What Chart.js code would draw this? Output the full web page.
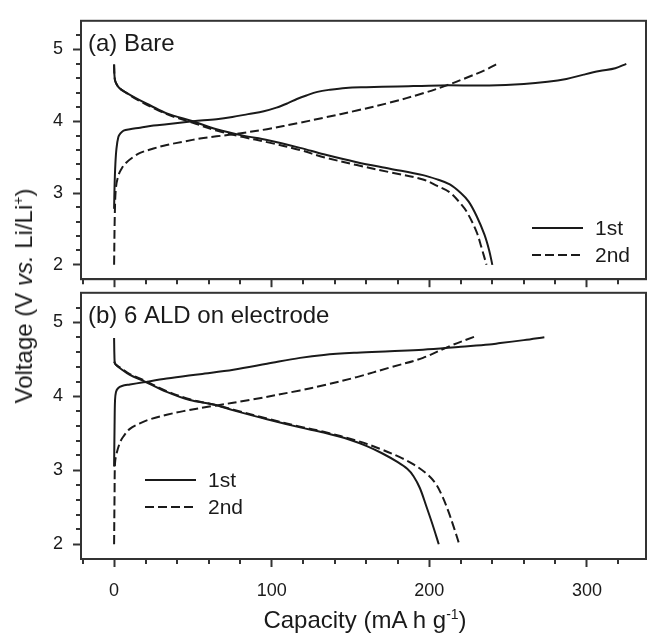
<!DOCTYPE html>
<html>
<head>
<meta charset="utf-8">
<script src="https://cdn.jsdelivr.net/npm/chart.js@4.4.1/dist/chart.umd.min.js"></script>
<style>
  body { margin: 0; background: #fff; }
  #wrap { position: relative; width: 648px; height: 637px; overflow: hidden; font-family: 'Liberation Sans', Arial, sans-serif; color: #1a1a1a; }
  canvas { position: absolute; left: 0; }
  #top { top: 0; }
  #bottom { top: 272px; }
  .title { position: absolute; font-size: 24px; line-height: 1; white-space: nowrap; }
  #ytitle { left: 24px; top: 296px; transform: translate(-50%, -50%) rotate(-90deg); }
  #xtitle { left: 365px; top: 620px; transform: translate(-50%, -50%); }
  sup { font-size: 14px; vertical-align: 9px; line-height: 0; }
</style>
</head>
<body>
<div id="wrap">
  <canvas id="top" width="648" height="300"></canvas>
  <canvas id="bottom" width="648" height="365"></canvas>
  <div class="title" id="ytitle">Voltage (V <i>vs.</i> Li/Li<sup>+</sup>)</div>
  <div class="title" id="xtitle">Capacity (mA h g<sup>-1</sup>)</div>
</div>
<script>
// (a) Bare - 1st cycle charge / discharge
const bareChg1X = [0, 0.3, 0.8, 1.5, 2.7, 4, 6, 10, 16.5, 25, 33.4, 50, 65, 75, 85, 95, 103, 110, 116, 122, 129, 137, 147, 160, 180, 207, 238, 260, 275, 287, 298, 308, 318, 325];
const bareChg1Y = [2.78, 3.1, 3.4, 3.62, 3.78, 3.83, 3.87, 3.89, 3.91, 3.94, 3.96, 4.0, 4.03, 4.06, 4.1, 4.14, 4.19, 4.25, 4.31, 4.36, 4.41, 4.44, 4.465, 4.475, 4.485, 4.5, 4.5, 4.52, 4.55, 4.59, 4.65, 4.7, 4.74, 4.8];
const bareDis1X = [0, 0.2, 0.6, 1.5, 3, 6, 16.5, 23, 33.4, 50, 65, 82, 97, 118, 133, 154, 175, 196, 205, 213, 220, 225, 230, 235, 238, 240];
const bareDis1Y = [4.79, 4.65, 4.57, 4.52, 4.47, 4.42, 4.29, 4.22, 4.11, 4.0, 3.89, 3.8, 3.74, 3.63, 3.54, 3.43, 3.34, 3.25, 3.19, 3.12, 3.0, 2.88, 2.68, 2.42, 2.2, 2.0];
// (a) Bare - 2nd cycle
const bareChg2X = [0, 0.5, 1.2, 2.8, 5, 8, 12, 16.5, 25, 33.4, 45, 54.5, 65, 75.7, 97, 118, 133, 154, 175, 196, 211, 224, 236, 243];
const bareChg2Y = [2.0, 2.75, 3.08, 3.25, 3.35, 3.43, 3.5, 3.56, 3.62, 3.67, 3.72, 3.76, 3.79, 3.82, 3.89, 3.98, 4.05, 4.15, 4.26, 4.39, 4.5, 4.61, 4.72, 4.8];
const bareDis2X = [0, 0.2, 0.6, 1.5, 3, 6, 16.5, 33.4, 50, 65, 82, 97, 118, 133, 154, 175, 196, 205, 213, 220, 224, 230, 233, 236.3];
const bareDis2Y = [4.79, 4.65, 4.57, 4.52, 4.47, 4.42, 4.28, 4.1, 3.98, 3.87, 3.78, 3.71, 3.6, 3.5, 3.39, 3.29, 3.19, 3.1, 3.01, 2.85, 2.73, 2.46, 2.25, 2.0];

// (b) 6 ALD on electrode - 1st cycle
const aldChg1X = [0, 0.3, 0.6, 1.2, 2.5, 5, 10, 18.6, 33.4, 54.5, 75.7, 97, 118, 133, 154, 175, 196, 220, 238, 245, 260, 273];
const aldChg1Y = [3.05, 3.6, 3.95, 4.06, 4.11, 4.14, 4.16, 4.19, 4.24, 4.3, 4.36, 4.44, 4.52, 4.56, 4.59, 4.61, 4.63, 4.67, 4.7, 4.72, 4.76, 4.8];
const aldDis1X = [0, 0.2, 0.5, 1.5, 3.8, 10, 18.6, 33.4, 48, 63, 75.7, 97, 118, 133, 150, 160, 170, 180, 186, 190, 194, 198, 202, 206];
const aldDis1Y = [4.79, 4.55, 4.45, 4.42, 4.38, 4.29, 4.21, 4.06, 3.95, 3.89, 3.81, 3.69, 3.58, 3.51, 3.41, 3.33, 3.23, 3.11, 3.02, 2.92, 2.76, 2.52, 2.27, 2.0];
// (b) 2nd cycle
const aldChg2X = [0, 0.3, 0.6, 1.5, 3.8, 6, 10, 16, 22.8, 33.4, 44, 63, 86, 118, 133, 154, 175, 196, 213, 229];
const aldChg2Y = [2.0, 2.7, 3.1, 3.22, 3.38, 3.46, 3.56, 3.63, 3.69, 3.75, 3.8, 3.87, 3.95, 4.08, 4.15, 4.26, 4.39, 4.52, 4.68, 4.81];
const aldDis2X = [0, 1, 3.8, 10, 18.6, 33.4, 48, 63, 75.7, 97, 118, 133, 154, 168.7, 181, 190, 199, 204, 208, 212, 216, 219];
const aldDis2Y = [4.47, 4.43, 4.39, 4.3, 4.22, 4.07, 3.96, 3.89, 3.82, 3.7, 3.59, 3.52, 3.4, 3.29, 3.18, 3.08, 2.94, 2.82, 2.66, 2.45, 2.2, 2.0];

const legendLabels = ['1st', '2nd'];
const xTickStep = 100, xMinorStep = 20;
const yTickStep = 1, yMinorStep = 0.2;

const INK = '#1a1a1a';
const AXIS = '#333';
const FONT = "'Liberation Sans', Arial, sans-serif";
const DASH = [9, 4];

function curve(xs, ys) {
  return xs.map((x, i) => ({ x: x, y: ys[i] }));
}

function lineSet(label, data, dashed) {
  return {
    label: label,
    data: data,
    showLine: true,
    borderColor: INK,
    borderWidth: 2,
    borderDash: dashed ? DASH : [],
    pointRadius: 0,
    tension: 0.35,
    fill: false
  };
}

// frame, minor ticks, panel label and the inset legend
const decoPlugin = {
  id: 'deco',
  afterDraw(chart, args, opts) {
    const ctx = chart.ctx;
    const a = chart.chartArea;
    const xs = chart.scales.x, ys = chart.scales.y;
    ctx.save();
    ctx.strokeStyle = AXIS;
    ctx.lineWidth = 2;
    ctx.strokeRect(a.left, a.top, a.right - a.left, a.bottom - a.top);

    ctx.beginPath();
    for (let v = Math.ceil(xs.min / xMinorStep) * xMinorStep; v <= xs.max; v += xMinorStep) {
      if (Math.abs(v % xTickStep) < 1e-6) continue;
      const p = Math.round(xs.getPixelForValue(v));
      ctx.moveTo(p, a.bottom);
      ctx.lineTo(p, a.bottom + 5);
    }
    for (let k = 1; ; k++) {
      const v = ys.min + k * yMinorStep;
      if (v > ys.max - 1e-6) break;
      if (Math.abs(v - Math.round(v)) < 1e-6) continue;
      const p = Math.round(ys.getPixelForValue(v));
      ctx.moveTo(a.left, p);
      ctx.lineTo(a.left - 5, p);
    }
    ctx.stroke();

    ctx.fillStyle = INK;
    ctx.font = '24px ' + FONT;
    ctx.textBaseline = 'alphabetic';
    ctx.textAlign = 'left';
    ctx.fillText(opts.label, a.left + 7, a.top + 30);

    ctx.font = '21px ' + FONT;
    ctx.textBaseline = 'middle';
    legendLabels.forEach((t, i) => {
      const y = opts.legendY + i * 27;
      ctx.strokeStyle = INK;
      ctx.lineWidth = 2;
      ctx.setLineDash(i ? DASH : []);
      ctx.beginPath();
      ctx.moveTo(opts.legendX, y);
      ctx.lineTo(opts.legendX + 51, y);
      ctx.stroke();
      ctx.setLineDash([]);
      ctx.fillText(t, opts.legendX + 63, y + 1);
    });
    ctx.restore();
  }
};

function makePanel(id, sets, label, legendX, legendY, showXLabels, xHeight) {
  return new Chart(document.getElementById(id), {
    type: 'scatter',
    data: { datasets: sets },
    plugins: [decoPlugin],
    options: {
      responsive: false,
      animation: false,
      events: [],
      devicePixelRatio: 1,
      layout: { padding: { top: 14, right: 2, left: 0, bottom: 0 } },
      plugins: {
        legend: { display: false },
        tooltip: { enabled: false },
        deco: { label: label, legendX: legendX, legendY: legendY }
      },
      scales: {
        x: {
          type: 'linear',
          min: -21,
          max: 337.5,
          afterFit: s => { s.height = xHeight; },
          ticks: {
            stepSize: xTickStep,
            includeBounds: false,
            maxRotation: 0,
            padding: 13,
            color: INK,
            font: { size: 18, family: FONT },
            callback: v => showXLabels ? String(v) : ''
          },
          grid: { drawOnChartArea: false, tickLength: 8, tickWidth: 2, tickColor: AXIS },
          border: { width: 2, color: AXIS }
        },
        y: {
          type: 'linear',
          min: 1.8,
          max: 5.4,
          afterFit: s => { s.width = 81; },
          ticks: {
            stepSize: yTickStep,
            includeBounds: false,
            padding: 10,
            color: INK,
            font: { size: 18, family: FONT },
            callback: v => String(v)
          },
          grid: { drawOnChartArea: false, tickLength: 8, tickWidth: 2, tickColor: AXIS },
          border: { width: 2, color: AXIS }
        }
      }
    }
  });
}

makePanel('top', [
  lineSet('1st charge', curve(bareChg1X, bareChg1Y), false),
  lineSet('1st discharge', curve(bareDis1X, bareDis1Y), false),
  lineSet('2nd charge', curve(bareChg2X, bareChg2Y), true),
  lineSet('2nd discharge', curve(bareDis2X, bareDis2Y), true)
], '(a) Bare', 532, 228, false, 14);

makePanel('bottom', [
  lineSet('1st charge', curve(aldChg1X, aldChg1Y), false),
  lineSet('1st discharge', curve(aldDis1X, aldDis1Y), false),
  lineSet('2nd charge', curve(aldChg2X, aldChg2Y), true),
  lineSet('2nd discharge', curve(aldDis2X, aldDis2Y), true)
], '(b) 6 ALD on electrode', 145, 208, true, 78);
</script>
</body>
</html>
